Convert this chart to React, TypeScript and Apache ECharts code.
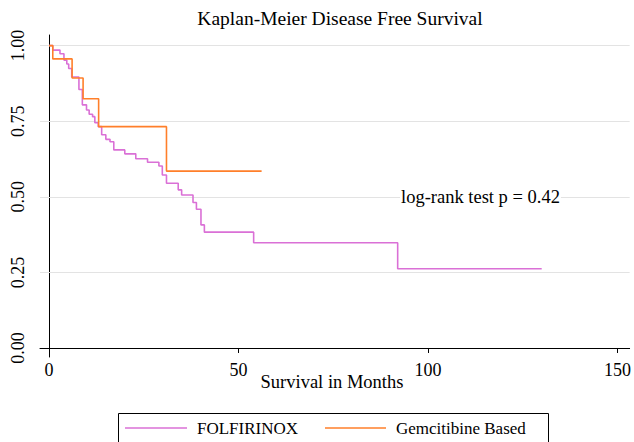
import React, { useEffect, useRef } from "react";
import * as echarts from "echarts";

const folfTimes = [0, 1.0, 2.9, 3.95, 4.7, 5.2, 6.0, 7.9, 8.8, 9.9, 10.6, 11.5, 12.1, 13.0, 13.9, 15.0, 16.1, 17.1, 20.0, 22.9, 26.0, 29.0, 29.9, 31.0, 34.1, 35.0, 38.0, 38.9, 40.1, 41.0, 54.0, 92.0, 130.0];
const folfSurv = [1.0, 0.985, 0.973, 0.952, 0.939, 0.924, 0.896, 0.855, 0.804, 0.787, 0.773, 0.765, 0.745, 0.732, 0.705, 0.69, 0.682, 0.655, 0.642, 0.626, 0.614, 0.602, 0.572, 0.545, 0.523, 0.506, 0.481, 0.459, 0.407, 0.383, 0.348, 0.262, 0.262];
const gemTimes = [0, 1.0, 6.1, 9.0, 13.1, 31.0, 56.1];
const gemSurv = [1.0, 0.956, 0.893, 0.824, 0.732, 0.585, 0.585];

const xTicks = [0, 50, 100, 150];
const yTicks = [0, 0.25, 0.5, 0.75, 1.0];
const yGrid = [0.25, 0.5, 0.75, 1.0];
const seriesNames = ["FOLFIRINOX", "Gemcitibine Based"];
const titleText = "Kaplan-Meier Disease Free Survival";
const xTitle = "Survival in Months";
const noteText = "log-rank test p = 0.42";

const PINK = "#DA70D6";
const ORANGE = "#FF7F2A";
const FONT = "Liberation Serif";

export default function App() {
  const ref = useRef<HTMLDivElement>(null);
  useEffect(() => {
    if (!ref.current) return;
    const chart = echarts.init(ref.current, null, { renderer: "svg" });
    const folf = folfTimes.map((t, i) => [t, folfSurv[i]]);
    const gem = gemTimes.map((t, i) => [t, gemSurv[i]]);
    chart.setOption({
      animation: false,
      backgroundColor: "#fff",
      textStyle: { fontFamily: FONT },
      grid: { left: 40, right: 4, top: 35, bottom: 85, containLabel: false },
      xAxis: {
        type: "value",
        min: -2.37,
        max: 153.2,
        axisLine: { show: true, lineStyle: { color: "#000", width: 1 } },
        axisTick: { show: true, customValues: xTicks, length: 5, lineStyle: { color: "#000" } },
        axisLabel: { customValues: xTicks, color: "#000", fontSize: 18, fontFamily: FONT, margin: 4 },
        splitLine: { show: false },
      },
      yAxis: {
        type: "value",
        min: -0.0298,
        max: 1.035,
        axisLine: { show: true, lineStyle: { color: "#000", width: 1 } },
        axisTick: { show: true, customValues: yTicks, length: 5, lineStyle: { color: "#000" } },
        axisLabel: {
          customValues: yTicks,
          color: "#000",
          fontSize: 18,
          fontFamily: FONT,
          rotate: 90,
          margin: 13,
          formatter: (v: number) => v.toFixed(2),
        },
        splitLine: { show: false },
      },
      series: [
        {
          name: seriesNames[0],
          type: "line",
          step: "end",
          data: folf,
          showSymbol: false,
          symbol: "none",
          lineStyle: { color: PINK, width: 1.6 },
          itemStyle: { color: PINK },
          z: 3,
          markLine: {
            silent: true,
            symbol: "none",
            label: { show: false },
            lineStyle: { color: "#e3e3e3", width: 1.2, type: "solid" },
            data: yGrid.map((v) => ({ yAxis: v })),
            z: 1,
          },
        },
        {
          name: seriesNames[1],
          type: "line",
          step: "end",
          data: gem,
          showSymbol: false,
          symbol: "none",
          lineStyle: { color: ORANGE, width: 1.6 },
          itemStyle: { color: ORANGE },
          z: 4,
        },
      ],
      graphic: [
        {
          type: "text",
          x: 340,
          y: 18,
          style: { text: titleText, fontSize: 19.5, fontFamily: FONT, fill: "#000", textAlign: "center", textVerticalAlign: "middle" },
        },
        {
          type: "text",
          x: 332,
          y: 382,
          style: { text: xTitle, fontSize: 18.5, fontFamily: FONT, fill: "#000", textAlign: "center", textVerticalAlign: "middle" },
        },
        {
          type: "text",
          x: 400,
          y: 197,
          z: 10,
          style: {
            text: noteText,
            fontSize: 18.5,
            fontFamily: FONT,
            fill: "#000",
            textAlign: "left",
            textVerticalAlign: "middle",
            backgroundColor: "#fff",
            padding: [0, 1],
          },
        },
        {
          type: "rect",
          shape: { x: 118.5, y: 413.5, width: 430, height: 40 },
          style: { fill: "none", stroke: "#000", lineWidth: 1 },
        },
        {
          type: "line",
          shape: { x1: 125, y1: 428, x2: 187, y2: 428 },
          style: { stroke: PINK, lineWidth: 1.5 },
        },
        {
          type: "text",
          x: 197,
          y: 428,
          style: { text: seriesNames[0], fontSize: 17, fontFamily: FONT, fill: "#000", textAlign: "left", textVerticalAlign: "middle" },
        },
        {
          type: "line",
          shape: { x1: 325, y1: 428, x2: 386, y2: 428 },
          style: { stroke: ORANGE, lineWidth: 1.5 },
        },
        {
          type: "text",
          x: 396,
          y: 428,
          style: { text: seriesNames[1], fontSize: 17, fontFamily: FONT, fill: "#000", textAlign: "left", textVerticalAlign: "middle" },
        },
      ],
    });
    return () => chart.dispose();
  }, []);
  return <div ref={ref} style={{ width: 634, height: 442, position: "absolute", left: 0, top: 0 }} />;
}
